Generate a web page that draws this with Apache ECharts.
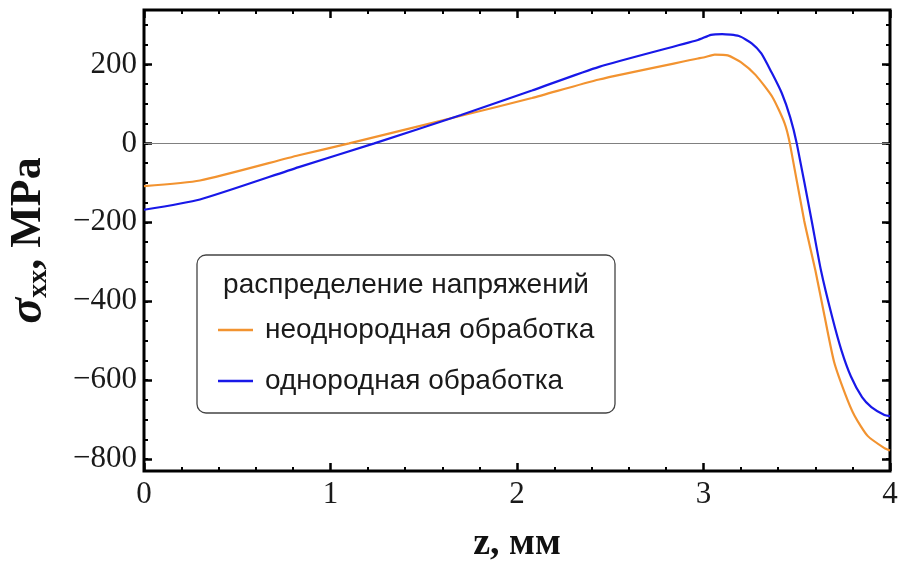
<!DOCTYPE html>
<html>
<head>
<meta charset="utf-8">
<script src="https://cdn.jsdelivr.net/npm/echarts@6/dist/echarts.min.js"></script>
<style>
  html, body { margin: 0; padding: 0; background: #fff; }
  #chart { width: 900px; height: 565px; }
</style>
</head>
<body>
<div id="chart"></div>
<script>
// Depth z (mm) and stress sigma_xx (MPa) for the two treatment variants
const zNonUniform = [0, 0.3, 0.83, 1.1, 1.7, 2.08, 2.44, 2.97, 3.01, 3.06, 3.13, 3.2, 3.28, 3.37, 3.435, 3.463, 3.54, 3.6, 3.65, 3.7, 3.76, 3.81, 3.88, 3.97, 4.0];
const sNonUniform = [-108, -94, -30, 0, 70, 115, 162, 215, 219, 225, 223, 206, 173, 117, 51, 0, -196, -322, -440, -553, -635, -690, -741, -772, -778];

const zUniform = [0, 0.3, 0.83, 1.235, 1.7, 2.08, 2.44, 2.97, 3.04, 3.1, 3.19, 3.26, 3.31, 3.365, 3.42, 3.465, 3.5, 3.58, 3.63, 3.69, 3.74, 3.79, 3.85, 3.9, 3.97, 4.0];
const sUniform = [-168, -142, -60, 0, 72, 134, 194, 262, 275, 277, 272, 253, 228, 180, 127, 66, 0, -196, -322, -440, -525, -590, -643, -668, -688, -691];

const seriesNames = ['неоднородная обработка', 'однородная обработка'];
const legendTitle = 'распределение напряжений';

const yMajorTicks = [-800, -600, -400, -200, 0, 200];
const yMinorTicks = [-800, -750, -700, -650, -600, -550, -500, -450, -400, -350, -300, -250, -200, -150, -100, -50, 0, 50, 100, 150, 200, 250, 300];
const yMin = -830, yMax = 338;

const pairs = (xs, ys) => xs.map((x, i) => [x, ys[i]]);
const fmt = v => (v < 0 ? '\u2212' + Math.abs(v) : String(v));

const serif = 'Liberation Serif';
const sans = 'Liberation Sans';

const chart = echarts.init(document.getElementById('chart'), null, { renderer: 'canvas' });

const xAxisBase = {
  type: 'value', min: 0, max: 4, interval: 1,
  axisLine: { show: false, onZero: false },
  splitLine: { show: false },
  axisTick: { show: true, inside: true, length: 8, lineStyle: { color: '#000', width: 2.5 } },
  minorTick: { show: true, splitNumber: 5, length: 4, lineStyle: { color: '#000', width: 2 } }
};

function yAxis(position, ticks, len, labels) {
  return {
    type: 'value', min: yMin, max: yMax, position: position,
    axisLine: { show: false, onZero: false },
    splitLine: { show: false },
    axisTick: { show: true, inside: true, length: len, customValues: ticks,
      lineStyle: { color: '#000', width: len > 5 ? 2.5 : 2 } },
    axisLabel: labels ? {
      show: true, customValues: yMajorTicks, formatter: fmt,
      fontFamily: serif, fontSize: 31, color: '#1a1a1a', margin: 7
    } : { show: false }
  };
}

const option = {
  animation: false,
  backgroundColor: '#fff',
  grid: {
    left: 144, right: 10, top: 10, bottom: 94,
    outerBoundsMode: 'none', containLabel: false,
    show: true, borderColor: '#000', borderWidth: 3, backgroundColor: 'transparent'
  },
  xAxis: [
    Object.assign({}, xAxisBase, {
      position: 'bottom',
      axisLabel: { fontFamily: serif, fontSize: 31, color: '#1a1a1a', margin: 8 },
      name: 'z, мм', nameLocation: 'middle', nameGap: 54,
      nameTextStyle: { fontFamily: serif, fontWeight: 'bold', fontSize: 38, color: '#111' }
    }),
    Object.assign({}, xAxisBase, { position: 'top', axisLabel: { show: false } })
  ],
  yAxis: [
    Object.assign(yAxis('left', yMajorTicks, 8, true), {
      name: '{s|σ}{sub|xx}{n|, MPa}', nameLocation: 'middle', nameRotate: 90, nameGap: 91,
      nameTextStyle: {
        color: '#111',
        rich: {
          s: { fontFamily: serif, fontWeight: 'bold', fontStyle: 'italic', fontSize: 48, color: '#111' },
          sub: { fontFamily: serif, fontWeight: 'bold', fontSize: 28, color: '#111', verticalAlign: 'bottom', padding: [14, 0, 0, 0] },
          n: { fontFamily: serif, fontWeight: 'bold', fontSize: 44, color: '#111' }
        }
      }
    }),
    yAxis('left', yMinorTicks, 4, false),
    yAxis('right', yMajorTicks, 8, false),
    yAxis('right', yMinorTicks, 4, false)
  ],
  legend: {
    show: true,
    z: 20,
    orient: 'vertical',
    left: 213, top: 310,
    icon: 'rect',
    itemWidth: 35, itemHeight: 2.5, itemGap: 21,
    data: seriesNames,
    textStyle: { fontFamily: sans, fontSize: 28, lineHeight: 30, color: '#1a1a1a', padding: [0, 0, 0, 7] },
    selectedMode: false
  },
  graphic: [
    {
      type: 'rect', z: 5,
      shape: { x: 197, y: 255, width: 418, height: 158, r: 9 },
      style: { fill: '#fff', stroke: '#444', lineWidth: 1.3 }
    },
    {
      type: 'text', z: 6,
      x: 406, y: 285,
      style: { text: legendTitle, fontFamily: sans, fontSize: 28, fill: '#1a1a1a', align: 'center', verticalAlign: 'middle' }
    }
  ],
  series: [
    {
      name: seriesNames[0], type: 'line', xAxisIndex: 0, yAxisIndex: 0,
      data: pairs(zNonUniform, sNonUniform),
      symbol: 'none', showSymbol: false, smooth: 0.2,
      lineStyle: { color: '#F29330', width: 2.2 }, itemStyle: { color: '#F29330' },
      z: 3,
      markLine: {
        silent: true, symbol: 'none', label: { show: false },
        lineStyle: { color: '#808080', width: 1.2, type: 'solid' },
        data: [{ yAxis: 0 }], z: 1
      }
    },
    {
      name: seriesNames[1], type: 'line', xAxisIndex: 0, yAxisIndex: 0,
      data: pairs(zUniform, sUniform),
      symbol: 'none', showSymbol: false, smooth: 0.2,
      lineStyle: { color: '#1818E8', width: 2.2 }, itemStyle: { color: '#1818E8' },
      z: 3
    }
  ]
};

chart.setOption(option);
</script>
</body>
</html>
